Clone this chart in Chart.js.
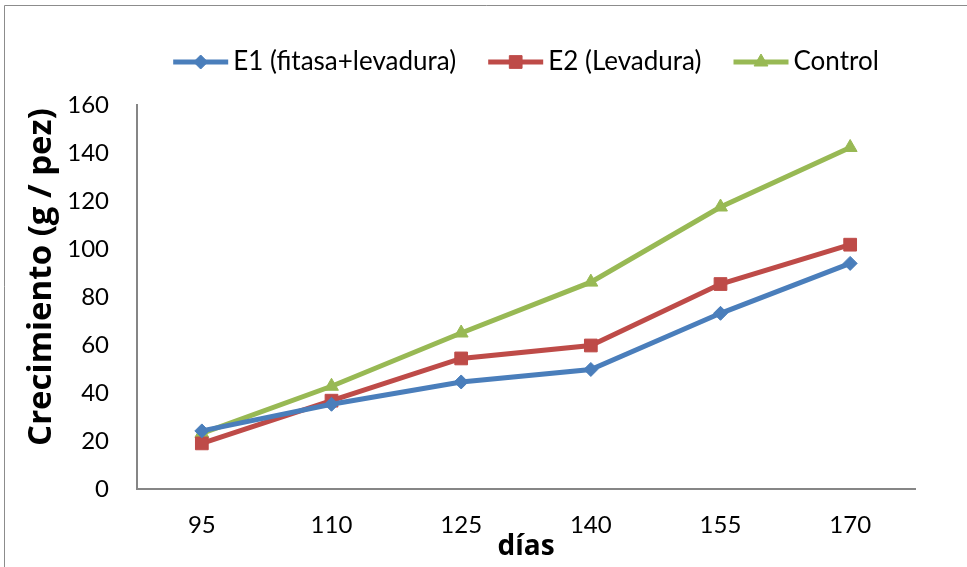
<!DOCTYPE html>
<html>
<head>
<meta charset="utf-8">
<script src="https://cdn.jsdelivr.net/npm/chart.js@4.4.1/dist/chart.umd.min.js"></script>
<style>
  html, body { margin: 0; padding: 0; background: #ffffff; }
  #wrap { position: relative; width: 967px; height: 567px; }
</style>
</head>
<body>
<div id="wrap"><canvas id="c" width="967" height="567"></canvas></div>
<script>
// Growth (g per fish) by day of culture
const dias = ['95', '110', '125', '140', '155', '170'];
const e1Fitasa = [24.2, 35.3, 44.6, 49.8, 73.2, 94.0];
const e2Levadura = [19.0, 36.8, 54.4, 59.8, 85.4, 101.8];
const control = [23.2, 42.8, 65.0, 86.2, 117.5, 142.3];
const yTicks = [0, 20, 40, 60, 80, 100, 120, 140, 160];

const BLUE = '#4a7ebb';
const RED = '#be4b48';
const GREEN = '#98b954';
const AXIS = '#868686';
const FONT = 'Lato, "Open Sans", sans-serif';
const BOLD_FONT = '"Open Sans", Lato, sans-serif';

// Outer frame, legend line+marker swatches and the rotated value-axis title
const decor = {
  id: 'decor',
  beforeDraw(chart) {
    const ctx = chart.ctx;
    ctx.save();
    ctx.fillStyle = '#ffffff';
    ctx.fillRect(0, 0, chart.width, chart.height);
    ctx.strokeStyle = '#8c8c8c';
    ctx.lineWidth = 1;
    ctx.beginPath();
    ctx.moveTo(4.5, chart.height + 2);
    ctx.lineTo(4.5, 5.5);
    ctx.lineTo(chart.width + 2, 5.5);
    ctx.stroke();
    ctx.restore();
  },
  afterDraw(chart) {
    const ctx = chart.ctx;
    const boxes = chart.legend.legendHitBoxes || [];
    boxes.forEach((hb, i) => {
      const d = chart.data.datasets[i];
      const y = hb.top + hb.height / 2;
      ctx.save();
      ctx.strokeStyle = d.borderColor;
      ctx.lineWidth = 5;
      ctx.beginPath();
      ctx.moveTo(hb.left, y);
      ctx.lineTo(hb.left + 55, y);
      ctx.stroke();
      ctx.fillStyle = d.borderColor;
      ctx.strokeStyle = d.borderColor;
      ctx.lineWidth = 1;
      Chart.helpers.drawPoint(ctx, { pointStyle: d.pointStyle, radius: d.pointRadius, rotation: 0, borderWidth: 1 }, hb.left + 27.5, y);
      ctx.restore();
    });

    ctx.save();
    ctx.translate(42, 277);
    ctx.rotate(-Math.PI / 2);
    ctx.font = 'bold 33px ' + BOLD_FONT;
    ctx.fillStyle = '#000000';
    ctx.textAlign = 'center';
    ctx.textBaseline = 'middle';
    ctx.fillText('Crecimiento (g / pez)', 0, 0);
    ctx.restore();
  }
};

// Fixed legend band height above the plot
const legendBand = {
  id: 'legendBand',
  beforeInit(chart) {
    const lg = chart.legend;
    if (!lg) return;
    const fit = lg.fit;
    lg.fit = function () {
      fit.call(this);
      this.height = 88;
    };
  }
};

const ds = (label, data, color, style, radius) => ({
  label,
  data,
  borderColor: color,
  backgroundColor: color,
  pointBackgroundColor: color,
  pointBorderColor: color,
  pointStyle: style,
  pointRadius: radius,
  pointHoverRadius: radius,
  borderWidth: 5,
  pointBorderWidth: 1,
  tension: 0,
  fill: false
});

new Chart(document.getElementById('c'), {
  type: 'line',
  data: {
    labels: dias,
    datasets: [
      ds('E1 (fitasa+levadura)', e1Fitasa, BLUE, 'rectRot', 7),
      ds('E2 (Levadura)', e2Levadura, RED, 'rect', 9),
      ds('Control', control, GREEN, 'triangle', 8)
    ]
  },
  options: {
    responsive: false,
    animation: false,
    devicePixelRatio: 1,
    layout: { padding: { left: 0, right: 52, top: 17, bottom: 0 } },
    plugins: {
      tooltip: { enabled: false },
      legend: {
        position: 'top',
        fullSize: false,
        labels: {
          padding: 32,
          boxWidth: 47,
          boxHeight: 26,
          font: { family: FONT, size: 26 },
          color: '#000000',
          generateLabels(chart) {
            return chart.data.datasets.map((d, i) => ({
              text: d.label,
              fillStyle: 'rgba(0,0,0,0)',
              strokeStyle: 'rgba(0,0,0,0)',
              lineWidth: 0,
              datasetIndex: i,
              hidden: false
            }));
          }
        }
      }
    },
    scales: {
      x: {
        offset: true,
        grid: { display: false, drawTicks: false },
        border: { display: true, color: AXIS, width: 2 },
        ticks: { color: '#000000', font: { family: FONT, size: 24 }, padding: 22 },
        title: {
          display: true,
          text: 'días',
          color: '#000000',
          font: { family: BOLD_FONT, size: 28, weight: 'bold', lineHeight: 1 },
          padding: { top: 0, bottom: 6 }
        },
        afterFit(scale) { scale.height = 78; }
      },
      y: {
        min: 0,
        max: 160,
        grid: { display: false, drawTicks: false },
        border: { display: true, color: AXIS, width: 2 },
        afterBuildTicks(scale) { scale.ticks = yTicks.map(v => ({ value: v })); },
        ticks: { color: '#000000', font: { family: FONT, size: 24 }, padding: 28 },
        afterFit(scale) { scale.width = 137; }
      }
    }
  },
  plugins: [decor, legendBand]
});
</script>
</body>
</html>
